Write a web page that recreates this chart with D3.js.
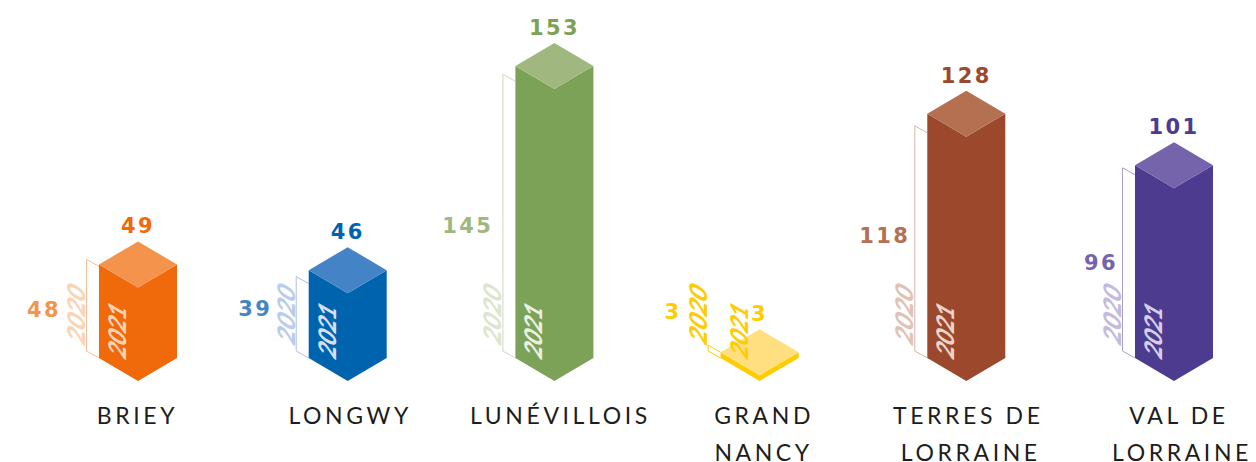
<!DOCTYPE html>
<html><head><meta charset="utf-8">
<script src="https://cdn.jsdelivr.net/npm/d3@7/dist/d3.min.js"></script>
<style>html,body{margin:0;padding:0;background:#fff;overflow:hidden}svg{display:block}text{font-family:Lato,sans-serif}</style>
</head><body><svg id="c" width="1256" height="462"></svg>
<script>
const categories=[["BRIEY"],["LONGWY"],["LUNÉVILLOIS"],["GRAND","NANCY"],["TERRES DE","LORRAINE"],["VAL DE","LORRAINE"]];
const values2021=[49,46,153,3,128,101];
const values2020=[48,39,145,3,118,96];
const sideColors=["#F0690A","#0063AE","#7BA256","#FFCC00","#9C482C","#4C3B8E"];
const topColors=["#F4934C","#4484C6","#A0B87F","#FFDF7F","#B47050","#7563AC"];
const label2020Colors=["#F4934C","#4484C6","#A0B87F","#FFCC00","#B47050","#7563AC"];
const year2020Colors=["#FBD3B5","#B9CDEA","#DDE5CE","#FFCC00","#E0C2B5","#C2BBDE"];
const year2021Colors=["#FBD3B5","#D5E0F2","#EBF0E2","#FFCC00","#EBD5CB","#D5D0E8"];
const outlineColors=["#F8BE94","#A9C0E4","#CDD9BB","#FFCC00","#D9B5A5","#A9A0D0"];

const svg=d3.select("#c");
const x=d3.scalePoint().domain(d3.range(6)).range([138,1174]);
const h=d3.scaleLinear().domain([0,153]).range([0,292]);
const baseY=358, hw=39, dy=23, bw=12.5, bdy=7;
// small layout adjustments
const nudgeBar=[0,2.5,2,0,-0.5,0];
const nudge2020Y=[4,-6,12,-37,-3,3];
const nudge2020X=[-38,-36.5,-22,-39,-17,-17];
const nudgeCat=[[-1.5],[1.5],[5],[3.5,3],[1,3.5],[4,7]];

const val=(s,xp,yp,anchor,col,t)=>s.append("text").attr("x",xp).attr("y",yp).attr("text-anchor",anchor)
  .style("font-family","'DejaVu Sans',sans-serif").attr("font-size",21).attr("font-weight",700)
  .attr("letter-spacing",2.4).attr("fill",col).text(t);

const g=svg.selectAll("g.b").data(d3.range(6)).join("g").attr("class","b");
g.each(function(i){
  const s=d3.select(this), cx=x(i)+nudgeBar[i], L=cx-hw, R=cx+hw, H=h(values2021[i]), H0=h(values2020[i]);
  const t=baseY-H;
  s.append("path").attr("d",`M${L},${baseY} L${L-bw},${baseY-bdy} V${baseY-bdy-H0} L${L},${baseY-H0}`)
    .attr("fill","none").attr("stroke",outlineColors[i]).attr("stroke-width",1);
  s.append("path").attr("d",`M${L},${t} L${cx},${t+dy} L${R},${t} V${baseY} L${cx},${baseY+dy} L${L},${baseY}Z`).attr("fill",sideColors[i]);
  s.append("path").attr("d",`M${L},${t} L${cx},${t-dy} L${R},${t} L${cx},${t+dy}Z`).attr("fill",topColors[i]);
  val(s,cx,t-dy-8,"middle",sideColors[i],values2021[i]);
  val(s,L+nudge2020X[i],baseY-bdy-H0/2+8+nudge2020Y[i],"end",label2020Colors[i],values2020[i]);
  const yr=(txt,px,py,col,sc)=>s.append("text").attr("transform",`matrix(0,${-sc},0.866,0.5,${px},${py})`)
    .attr("font-size",28).attr("font-weight",900).attr("fill",col).text(txt);
  yr("2021",L+27,361,year2021Colors[i],0.8);
  yr("2020",L-14,347,year2020Colors[i],0.88);
  categories[i].forEach((c,k)=>s.append("text").attr("x",cx+nudgeCat[i][k]+1).attr("y",424+k*37).attr("text-anchor","middle")
    .attr("font-size",23).attr("letter-spacing",3.6).attr("fill","#1d1d1b").text(c));
});
</script></body></html>
